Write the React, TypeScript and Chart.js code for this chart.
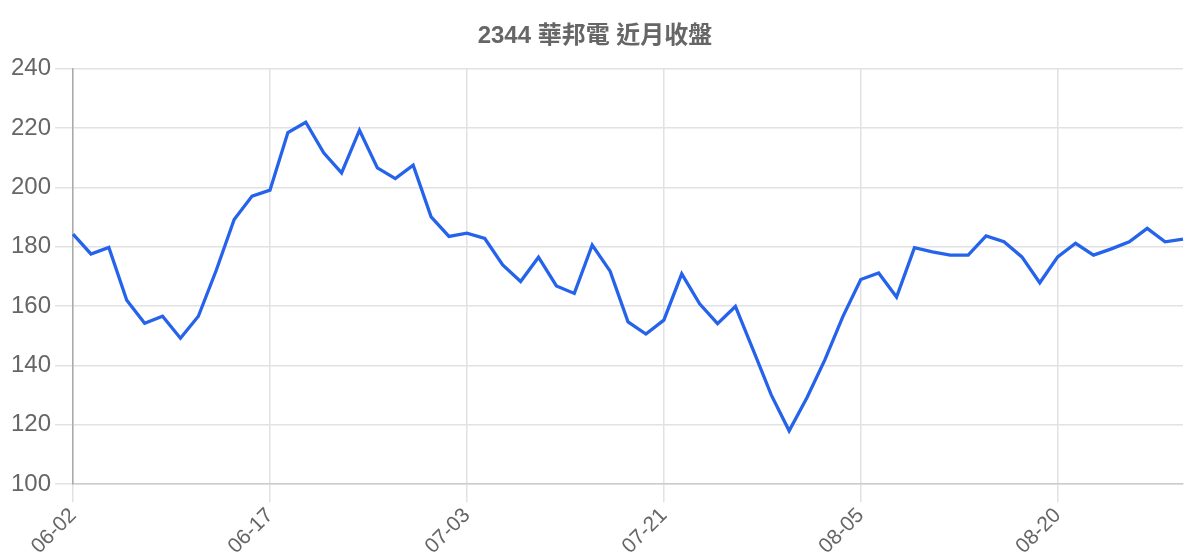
import React, { useEffect, useRef } from 'react';
import { Chart, registerables } from 'chart.js';

Chart.register(...registerables);

const dates: string[] = [
  '06-02', '06-03', '06-04', '06-05', '06-06', '06-09', '06-10', '06-11', '06-12', '06-13', '06-16',
  '06-17', '06-18', '06-19', '06-20', '06-23', '06-24', '06-25', '06-26', '06-27', '06-30', '07-01',
  '07-03', '07-04', '07-07', '07-08', '07-09', '07-10', '07-11', '07-14', '07-15', '07-16', '07-17',
  '07-21', '07-22', '07-23', '07-24', '07-25', '07-28', '07-29', '07-30', '07-31', '08-01', '08-04',
  '08-05', '08-06', '08-07', '08-08', '08-11', '08-12', '08-13', '08-14', '08-15', '08-18', '08-19',
  '08-20', '08-21', '08-22', '08-25', '08-26', '08-27', '08-28', '08-29',
];

const closes: number[] = [
  184.3, 177.6, 179.8, 162.0, 154.2, 156.6, 149.2, 156.6, 172.1, 189.2, 197.1,
  199.1, 218.5, 222.0, 211.7, 204.9, 219.3, 206.6, 203.0, 207.5, 190.1, 183.5,
  184.6, 182.8, 173.9, 168.3, 176.5, 166.8, 164.3, 180.6, 171.8, 154.7, 150.6,
  155.3, 170.9, 160.8, 154.1, 159.9, 145.1, 130.1, 118.0, 129.2, 142.0, 156.5,
  169.0, 171.2, 163.1, 179.7, 178.3, 177.2, 177.2, 183.7, 181.7, 176.6, 167.9,
  176.6, 181.2, 177.2, 179.3, 181.7, 186.2, 181.7, 182.6,
];

const yTicks: number[] = [100, 120, 140, 160, 180, 200, 220, 240];

const FONT = '"Liberation Sans", Arial, "Noto Sans CJK TC", sans-serif';

const App: React.FC = () => {
  const canvasRef = useRef<HTMLCanvasElement | null>(null);

  useEffect(() => {
    if (!canvasRef.current) return;
    const ctx = canvasRef.current.getContext('2d');
    if (!ctx) return;

    const chart = new Chart(ctx, {
      type: 'line',
      data: {
        labels: dates,
        datasets: [
          {
            label: '收盤',
            data: closes,
            borderColor: '#2563eb',
            borderWidth: 3.3,
            pointRadius: 0,
            fill: false,
            tension: 0,
          },
        ],
      },
      options: {
        responsive: true,
        maintainAspectRatio: false,
        animation: false,
        layout: { padding: { right: 17, left: 7 } },
        plugins: {
          legend: { display: false },
          tooltip: { enabled: false },
          title: {
            display: true,
            text: '2344 華邦電 近月收盤',
            color: '#666',
            font: { family: FONT, size: 24, weight: 'bold' },
            padding: { top: 22, bottom: 18 },
          },
        },
        scales: {
          x: {
            grid: { color: '#e2e2e2', lineWidth: 1.5, tickLength: 18 },
            border: { color: '#cccccc', width: 1.5 },
            ticks: {
              autoSkip: false,
              maxRotation: 45,
              minRotation: 45,
              padding: 1,
              color: '#666',
              font: { family: FONT, size: 21 },
              callback: (_v, i) => (i % 11 === 0 ? dates[i] : null),
            },
          },
          y: {
            min: yTicks[0],
            max: yTicks[yTicks.length - 1],
            afterBuildTicks: (axis) => {
              axis.ticks = yTicks.map((v) => ({ value: v }));
            },
            grid: { color: '#e2e2e2', lineWidth: 1.5, tickLength: 18 },
            border: { color: '#aaaaaa', width: 1.5 },
            ticks: {
              color: '#666',
              padding: 4,
              font: { family: FONT, size: 24 },
            },
          },
        },
      },
    });

    return () => {
      chart.destroy();
    };
  }, []);

  return (
    <div style={{ position: 'fixed', left: 0, top: 0, width: 1200, height: 560, background: '#fff' }}>
      <canvas ref={canvasRef} />
    </div>
  );
};

export default App;
